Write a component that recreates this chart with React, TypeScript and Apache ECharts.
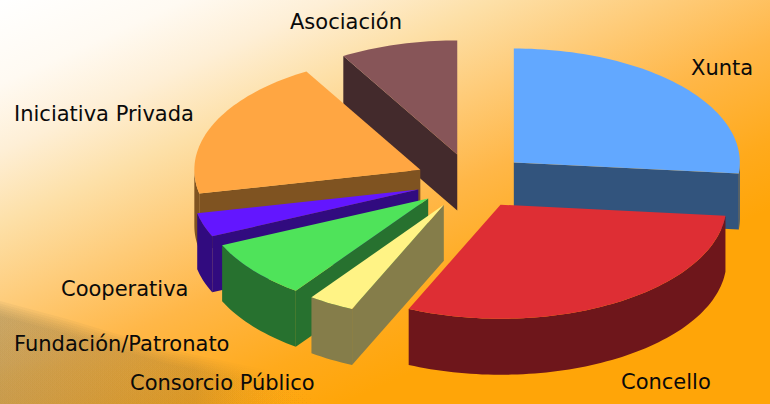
import React, { useEffect, useRef } from "react";
import * as echarts from "echarts";

const categories = ["Xunta", "Concello", "Consorcio Público", "Fundación/Patronato", "Cooperativa", "Iniciativa Privada", "Asociación"];
const shares = [26.5, 30.1, 3.3, 8.3, 3.4, 19.9, 8.4];
const topColors = ["#62a8ff", "#de2e34", "#fff385", "#4fe35a", "#6316ff", "#ffa642", "#875558"];
const wallColors = ["#32547d", "#6e161b", "#857d4a", "#27712f", "#310b7f", "#7f5321", "#432a2c"];
const paintOrder = [6, 0, 5, 4, 3, 2, 1];
const labelPlaces: [number, number][] = [[691, 68], [621, 382], [130, 383], [14, 344], [61, 289], [14, 114], [290, 22]];

const CX = 472, CY = 181, RX = 226, RY = 114, EX = 56.5, EY = 27.5, DEPTH = 56;
const total = shares.reduce((a, b) => a + b, 0);
const rad = Math.PI / 180;

function startOf(i: number) {
  let s = 0;
  for (let k = 0; k < i; k++) s += shares[k];
  return (s / total) * 360;
}

function renderSlice(_params: any, api: any) {
  const share = api.value(0);
  const i = api.value(1);
  const a0 = startOf(i);
  const a1 = a0 + (share / total) * 360;
  const mid = (a0 + a1) / 2;
  const ax = CX + EX * Math.sin(mid * rad);
  const ay = CY - EY * Math.cos(mid * rad);
  const pt = (deg: number, dy = 0): number[] => [ax + RX * Math.sin(deg * rad), ay - RY * Math.cos(deg * rad) + dy];
  const arc = (from: number, to: number, dy = 0) => {
    const n = Math.max(2, Math.ceil(Math.abs(to - from) / 1.5));
    const out: number[][] = [];
    for (let k = 0; k <= n; k++) out.push(pt(from + ((to - from) * k) / n, dy));
    return out;
  };
  const children: any[] = [];
  const wall = (points: number[][]) =>
    children.push({ type: "polygon", shape: { points }, style: { fill: wallColors[i] } });
  const apex = [ax, ay];
  const apexLow = [ax, ay + DEPTH];
  if (Math.sin(a0 * rad) < -1e-6) wall([apex, pt(a0), pt(a0, DEPTH), apexLow]);
  if (Math.sin(a1 * rad) > 1e-6) wall([apex, pt(a1), pt(a1, DEPTH), apexLow]);
  const f0 = Math.max(a0, 90), f1 = Math.min(a1, 270);
  if (f1 > f0) wall([...arc(f0, f1), ...arc(f1, f0, DEPTH)]);
  children.push({ type: "polygon", shape: { points: [apex, ...arc(a0, a1)] }, style: { fill: topColors[i] } });
  return { type: "group", children };
}

const W = 770, H = 404;
const hillEdge = [[0, 308], [67, 326], [167, 356], [267, 377], [300, 388], [325, 410]];

function hillLayers() {
  const layers: any[] = [];
  const steps = 7;
  for (let k = 0; k < steps; k++) {
    const dy = -7 + k * 2.4;
    layers.push({
      type: "polygon",
      silent: true,
      shape: { points: [...hillEdge.map(([x, y]) => [x, y + dy]), [0, 410]] },
      style: {
        fill: {
          type: "linear", x: 0, y: 0, x2: 1, y2: 0,
          colorStops: [
            { offset: 0, color: "rgba(140,125,85,0.085)" },
            { offset: 0.6, color: "rgba(160,120,50,0.065)" },
            { offset: 1, color: "rgba(255,165,8,0.0)" },
          ],
        },
      },
    });
  }
  return layers;
}

export default function App() {
  const ref = useRef<HTMLDivElement>(null);
  useEffect(() => {
    document.body.style.margin = "0";
    const chart = echarts.init(ref.current!, null, { renderer: "svg" });
    chart.setOption({
      animation: false,
      graphic: [
        {
          type: "rect",
          z: -10,
          silent: true,
          shape: { x: 0, y: 0, width: W, height: H },
          style: {
            fill: {
              type: "linear", x: 0, y: 0, x2: 211, y2: 464, global: true,
              colorStops: [
                { offset: 0, color: "#ffffff" },
                { offset: 0.15, color: "#fffaf2" },
                { offset: 0.27, color: "#feefd6" },
                { offset: 0.4, color: "#fde0a8" },
                { offset: 0.55, color: "#fecb78" },
                { offset: 0.7, color: "#ffb748" },
                { offset: 0.88, color: "#ffaa1c" },
                { offset: 1, color: "#ffa508" },
              ],
            },
          },
        },
        ...hillLayers().map((l) => ({ ...l, z: -9 })),
        ...categories.map((name, i) => ({
          type: "text",
          z: 10,
          x: labelPlaces[i][0],
          y: labelPlaces[i][1],
          style: {
            text: name,
            fill: "#0a0a0a",
            font: '21px "DejaVu Sans"',
            textAlign: "left",
            textVerticalAlign: "middle",
          },
        })),
      ],
      series: [
        {
          type: "custom",
          coordinateSystem: "none",
          silent: true,
          clip: false,
          renderItem: renderSlice,
          data: paintOrder.map((i) => [shares[i], i]),
        },
      ],
    });
    return () => chart.dispose();
  }, []);
  return <div ref={ref} style={{ width: W, height: H, position: "absolute", left: 0, top: 0 }} />;
}
